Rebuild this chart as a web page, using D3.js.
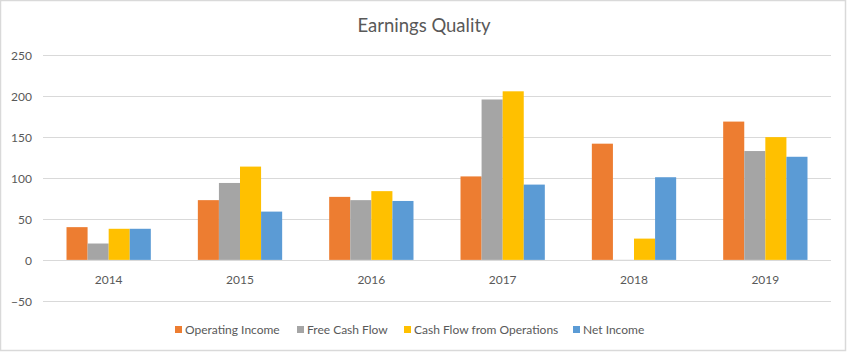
<!DOCTYPE html>
<html>
<head>
<meta charset="utf-8">
<script src="https://cdn.jsdelivr.net/npm/d3@7"></script>
<style>
  body { margin: 0; background: #fff; }
  #chart text { font-family: Lato, "Open Sans", sans-serif; fill: #595959; }
</style>
</head>
<body>
<div id="chart"></div>
<script>
// data
var years = ['2014', '2015', '2016', '2017', '2018', '2019'];
var seriesNames = ['Operating Income', 'Free Cash Flow', 'Cash Flow from Operations', 'Net Income'];
var seriesColors = ['#ed7d31', '#a5a5a5', '#ffc000', '#5b9bd5'];
var operatingIncome = [40, 73, 77, 102, 142, 169];
var freeCashFlow = [20, 94, 73, 196, -1, 133];
var cashFlowOps = [38, 114, 84, 206, 26, 150];
var netIncome = [38, 59, 72, 92, 101, 126];
var yTicks = [-50, 0, 50, 100, 150, 200, 250];

var allSeries = [operatingIncome, freeCashFlow, cashFlowOps, netIncome];

var width = 848, height = 353;
var svg = d3.select('#chart').append('svg')
  .attr('width', width)
  .attr('height', height);

// outer border
svg.append('rect')
  .attr('x', 0.5).attr('y', 0.5)
  .attr('width', 845).attr('height', 350)
  .attr('fill', '#fff')
  .attr('stroke', '#d9d9d9')
  .attr('stroke-width', 1.5);

// title
svg.append('text')
  .attr('x', 424).attr('y', 32)
  .attr('text-anchor', 'middle')
  .style('font-size', '18.5px')
  .text('Earnings Quality');

var left = 43, right = 831;

var x0 = d3.scaleBand()
  .domain(years)
  .range([left, right])
  .paddingInner(0.358)
  .paddingOuter(0.179);

var x1 = d3.scaleBand()
  .domain(d3.range(seriesNames.length))
  .range([0, x0.bandwidth()]);

var y = d3.scaleLinear()
  .domain([-50, 250])
  .range([300.8, 55.3]);

// gridlines
svg.append('g')
  .selectAll('line')
  .data(yTicks)
  .enter()
  .append('line')
  .attr('x1', left).attr('x2', right)
  .attr('y1', d => Math.round(y(d)) + 0.5)
  .attr('y2', d => Math.round(y(d)) + 0.5)
  .attr('stroke', '#d9d9d9')
  .attr('stroke-width', 1);

// y axis labels
var yAxis = svg.append('g')
  .attr('transform', 'translate(32,0)')
  .call(d3.axisLeft(y).tickValues(yTicks).tickSize(0).tickPadding(0));
yAxis.select('.domain').remove();
yAxis.selectAll('text').style('font-size', '12px').attr('dy', '0.35em');

// bars
var groups = svg.append('g')
  .selectAll('g')
  .data(years)
  .enter()
  .append('g')
  .attr('transform', d => 'translate(' + x0(d) + ',0)');

groups.selectAll('rect')
  .data((d, i) => allSeries.map((s, j) => ({ j: j, v: s[i] })))
  .enter()
  .append('rect')
  .attr('x', d => x1(d.j))
  .attr('y', d => y(Math.max(0, d.v)))
  .attr('width', x1.bandwidth())
  .attr('height', d => Math.abs(y(d.v) - y(0)))
  .attr('fill', d => seriesColors[d.j]);

// zero line
svg.append('line')
  .attr('x1', left).attr('x2', right)
  .attr('y1', Math.round(y(0)) + 0.5).attr('y2', Math.round(y(0)) + 0.5)
  .attr('stroke', '#d9d9d9');

// x axis labels
var xAxis = svg.append('g')
  .attr('transform', 'translate(0,' + y(0) + ')')
  .call(d3.axisBottom(x0).tickSize(0).tickPadding(16));
xAxis.select('.domain').remove();
xAxis.selectAll('text').style('font-size', '12px');

// legend
var legendX = [175, 297, 404, 573];
var legend = svg.append('g')
  .selectAll('g')
  .data(seriesNames)
  .enter()
  .append('g')
  .attr('transform', (d, i) => 'translate(' + legendX[i] + ',330)');

legend.append('rect')
  .attr('x', 0).attr('y', -4)
  .attr('width', 7).attr('height', 7)
  .attr('fill', (d, i) => seriesColors[i]);

legend.append('text')
  .attr('x', 10).attr('y', 0)
  .attr('dy', '0.35em')
  .style('font-size', '12px')
  .text(d => d);
</script>
</body>
</html>
